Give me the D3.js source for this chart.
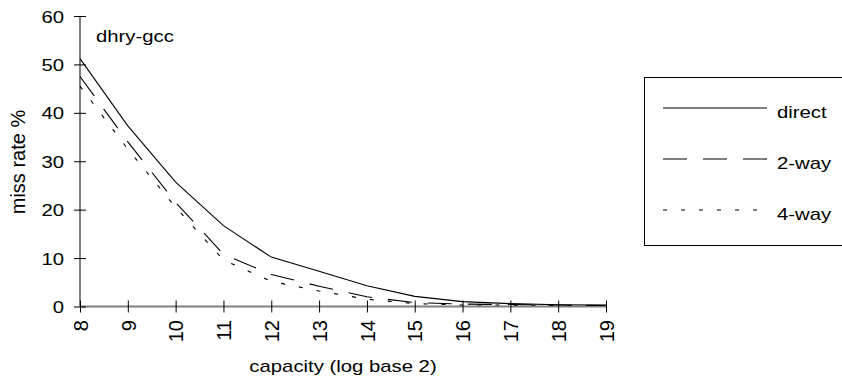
<!DOCTYPE html>
<html><head><meta charset="utf-8">
<script src="https://cdn.jsdelivr.net/npm/d3@7"></script>
<style>body{margin:0;background:#fff}svg{display:block;font-family:"Liberation Sans",Arial,sans-serif}</style>
</head><body><div id="c"></div>
<script>
const capacities = [8,9,10,11,12,13,14,15,16,17,18,19];
const direct = [51.2,37.3,25.7,16.7,10.2,7.3,4.3,2.1,1.0,0.6,0.35,0.3];
const twoWay = [47.5,34.0,21.5,10.8,6.6,4.2,2.0,0.8,0.5,0.4,0.3,0.2];
const fourWay = [45.5,32.5,20.5,9.6,5.2,3.2,1.5,0.6,0.3,0.3,0.2,0.2];
const yTicks = [0,10,20,30,40,50,60];
const seriesNames = ["direct","2-way","4-way"];
const title = "dhry-gcc";

const W=842,H=379, SX=1.27, FONT="Liberation Sans, Arial, sans-serif";
const svg=d3.select("#c").append("svg").attr("width",W).attr("height",H);
const x=d3.scaleLinear().domain([8,19]).range([80,606]);
const y=d3.scaleLinear().domain([0,60]).range([306.5,16]);

function wideText(g,tx,ty,str,anchor){
  return g.append("text").attr("transform",`translate(${tx},${ty}) scale(${SX},1)`)
    .attr("text-anchor",anchor||"start").attr("font-size",16).attr("font-family",FONT).attr("fill","#000").text(str);
}

// axes lines
svg.append("line").attr("x1",x(8)).attr("x2",x(8)).attr("y1",y(60)).attr("y2",y(0)).attr("stroke","#808080").attr("stroke-width",2);
svg.append("line").attr("x1",x(8)).attr("x2",x(19)).attr("y1",y(0)).attr("y2",y(0)).attr("stroke","#808080").attr("stroke-width",2);

const yAxis=d3.axisLeft(y).tickValues(yTicks).tickSizeOuter(0).tickFormat("");
const gy=svg.append("g").attr("transform",`translate(${x(8)},0)`).call(yAxis);
gy.select(".domain").remove();
gy.selectAll(".tick text").remove();
gy.selectAll(".tick line").attr("x2",6).attr("x1",-6).attr("stroke","#000");
gy.selectAll(".tick").each(function(d){
  wideText(d3.select(this),-16,6,String(d),"end");
});

const xAxis=d3.axisBottom(x).tickValues(capacities).tickSizeOuter(0);
const gx=svg.append("g").attr("transform",`translate(0,${y(0)})`).call(xAxis);
gx.select(".domain").remove();
gx.selectAll(".tick line").attr("y1",-6).attr("y2",6).attr("stroke","#000");
gx.selectAll(".tick text").attr("font-size",20).attr("fill","#000").attr("font-family",FONT)
  .attr("transform","rotate(-90)").attr("text-anchor","end").attr("x",-13.5).attr("y",0).attr("dy","0.36em");

const series=[
  {name:seriesNames[0],vals:direct,dash:null},
  {name:seriesNames[1],vals:twoWay,dash:"24,16"},
  {name:seriesNames[2],vals:fourWay,dash:"4,14"}
];
const line=d3.line().x((d,i)=>x(capacities[i])).y(d=>y(d));
series.forEach(s=>{
  svg.append("path").datum(s.vals).attr("d",line).attr("fill","none").attr("stroke","#000").attr("stroke-width",1.1)
    .attr("stroke-dasharray",s.dash);
});

wideText(svg,96,42,title);
svg.append("text").attr("transform","translate(25,162) rotate(-90)").attr("text-anchor","middle")
  .attr("font-size",20).attr("font-family",FONT).text("miss rate %");
wideText(svg,343,372,"capacity (log base 2)","middle");

// legend
const lg=svg.append("g");
lg.append("rect").attr("x",644.5).attr("y",77.5).attr("width",200).attr("height",168).attr("fill","#fff").attr("stroke","#000").attr("stroke-width",1);
series.forEach((s,i)=>{
  const ly=108+i*51;
  lg.append("line").attr("x1",663).attr("x2",767).attr("y1",ly).attr("y2",ly).attr("stroke","#000").attr("stroke-width",1.1).attr("stroke-dasharray",s.dash);
  wideText(lg,777,ly+9.5,s.name);
});
</script></body></html>
